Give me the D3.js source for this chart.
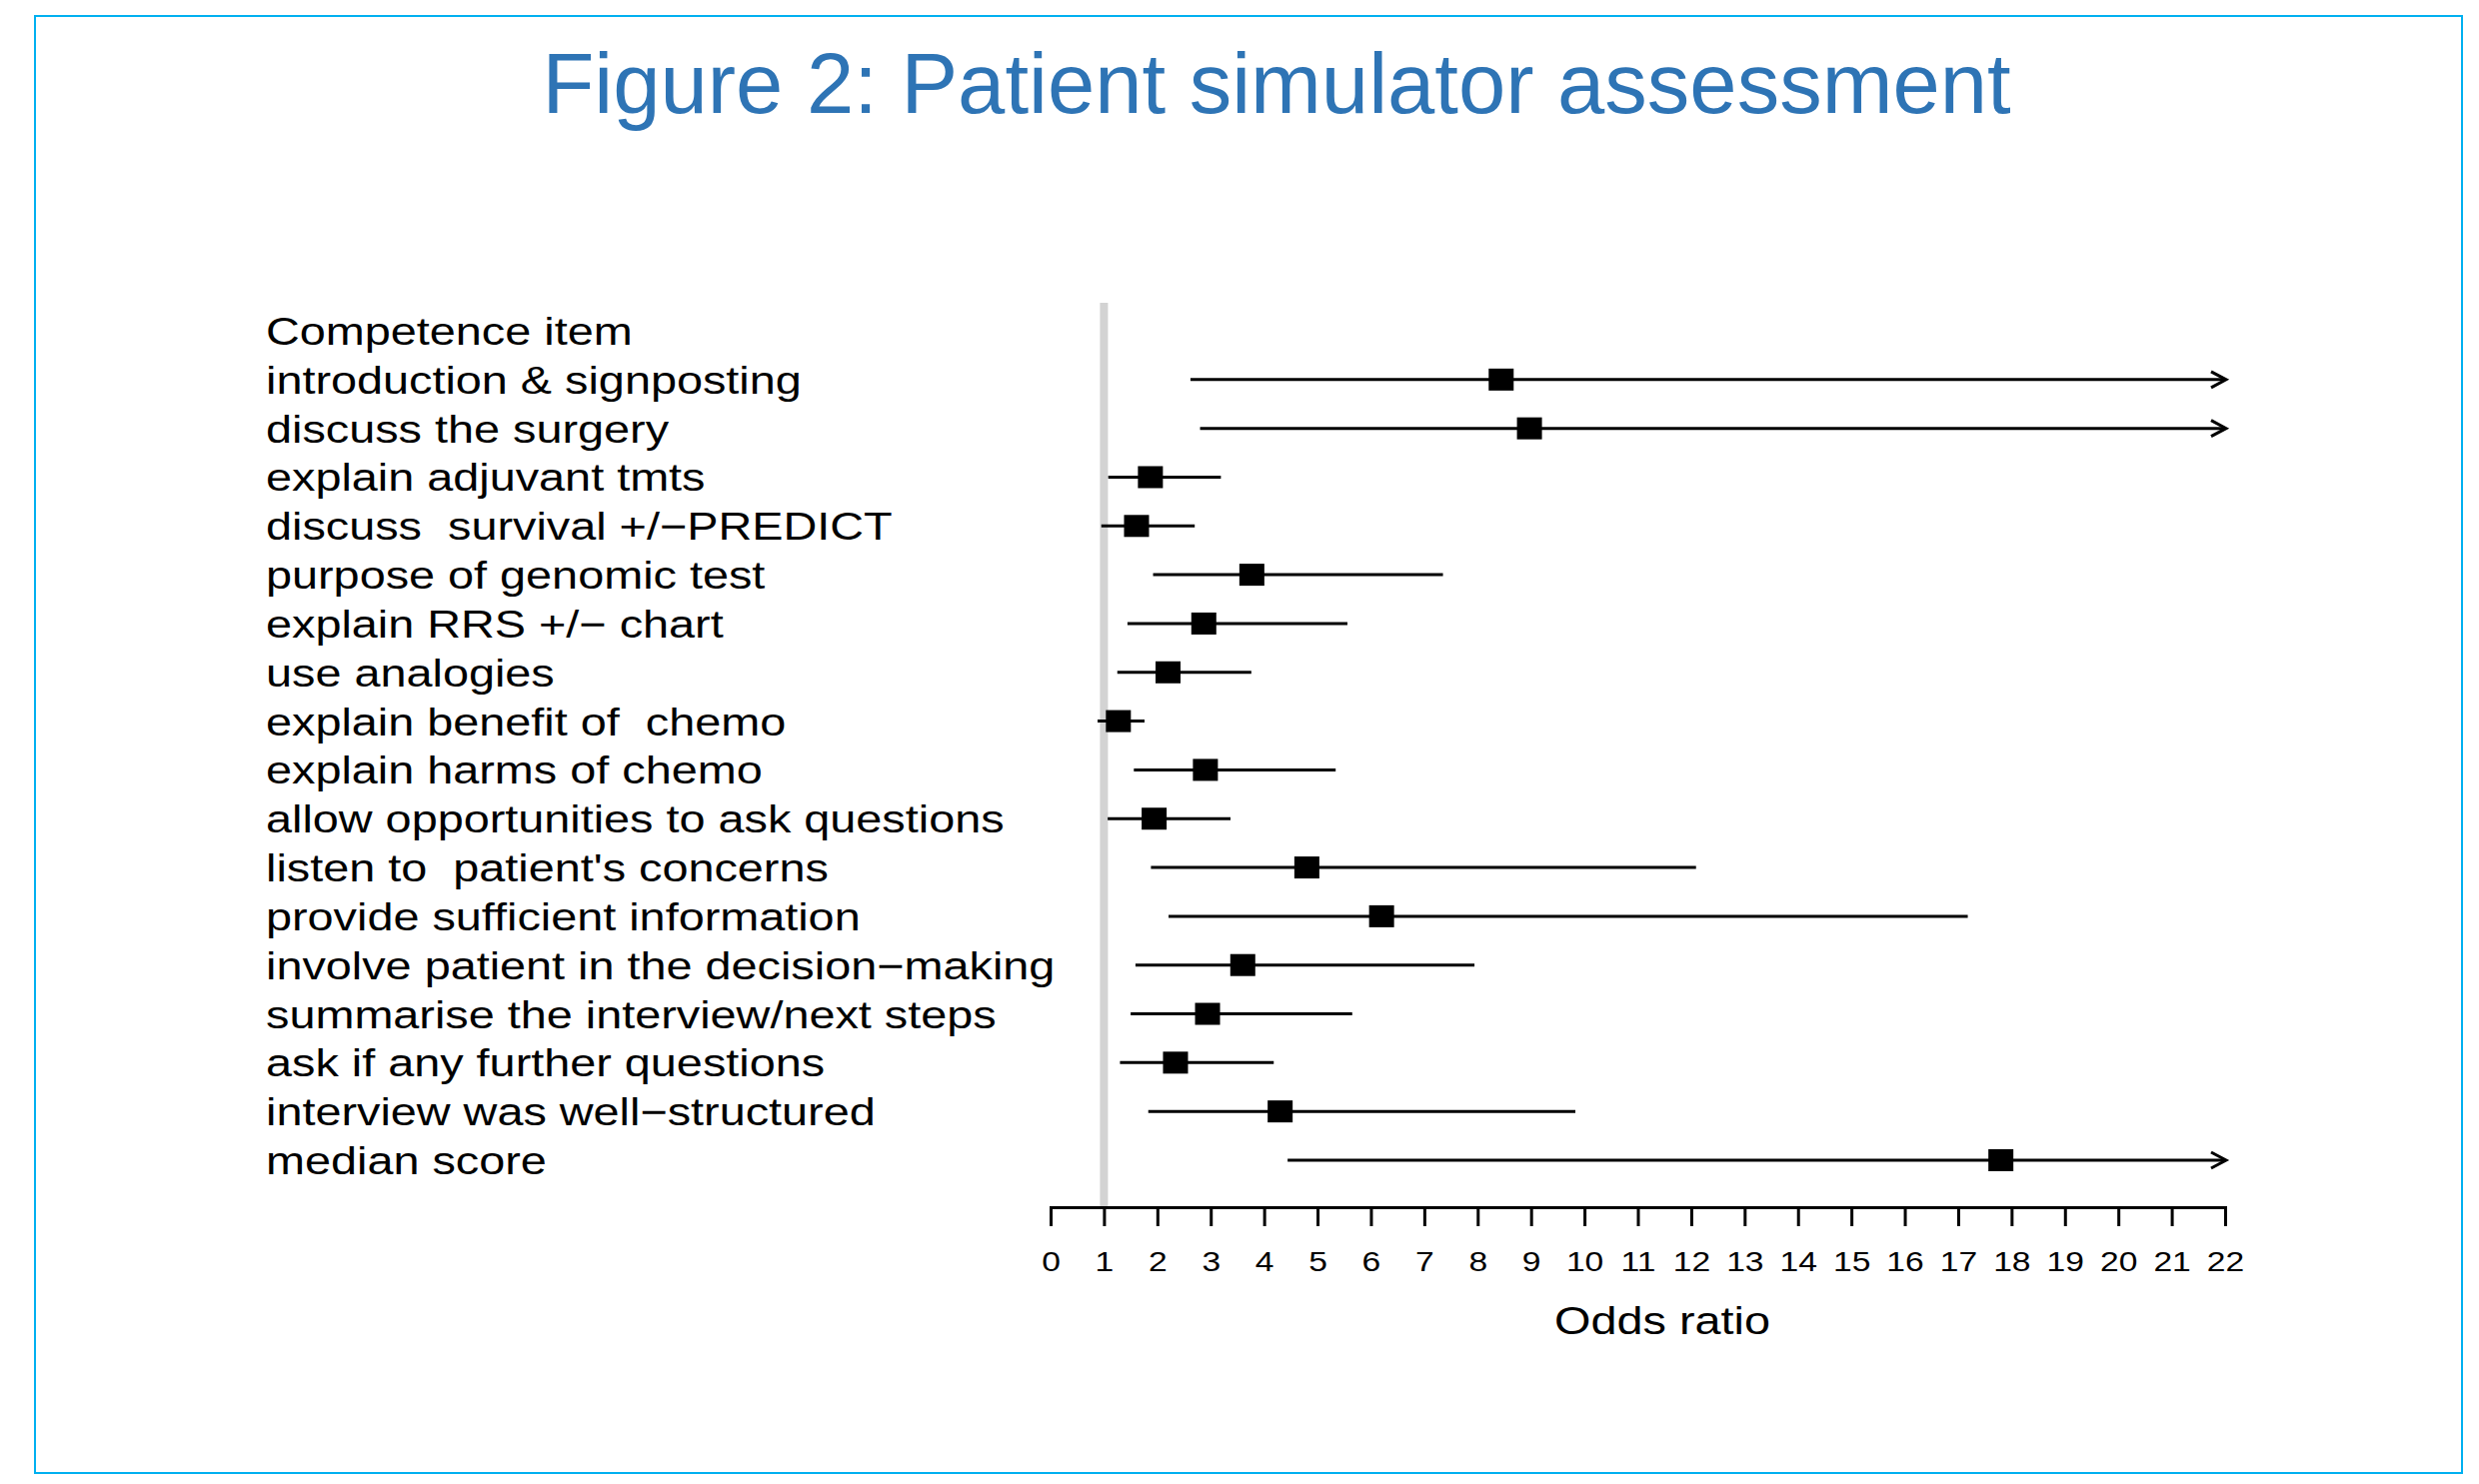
<!DOCTYPE html>
<html>
<head>
<meta charset="utf-8">
<script src="https://cdnjs.cloudflare.com/ajax/libs/d3/7.8.5/d3.min.js"></script>
<style>
body { margin: 0; background: #fff; }
text { font-family: "Liberation Sans", Arial, sans-serif; white-space: pre; }
</style>
</head>
<body>
<div id="viz-container"></div>
<script>
// data
var headerLabel = "Competence item";
var items = [
  "introduction & signposting",
  "discuss the surgery",
  "explain adjuvant tmts",
  "discuss  survival +/\u2212PREDICT",
  "purpose of genomic test",
  "explain RRS +/\u2212 chart",
  "use analogies",
  "explain benefit of  chemo",
  "explain harms of chemo",
  "allow opportunities to ask questions",
  "listen to  patient's concerns",
  "provide sufficient information",
  "involve patient in the decision\u2212making",
  "summarise the interview/next steps",
  "ask if any further questions",
  "interview was well\u2212structured",
  "median score"
];
var estimates = [8.44, 8.97, 1.87, 1.61, 3.77, 2.87, 2.20, 1.27, 2.90, 1.94, 4.80, 6.20, 3.60, 2.94, 2.34, 4.30, 17.80];
var lower     = [2.62, 2.80, 1.08, 0.95, 1.92, 1.44, 1.25, 0.88, 1.56, 1.07, 1.88, 2.21, 1.59, 1.50, 1.30, 1.83, 4.44];
// null = upper limit runs off the axis (drawn as an arrow)
var upper     = [null, null, 3.19, 2.70, 7.35, 5.56, 3.76, 1.76, 5.34, 3.37, 12.09, 17.18, 7.94, 5.65, 4.18, 9.83, null];
var oddsTicks = [0, 1, 2, 3, 4, 5, 6, 7, 8, 9, 10, 11, 12, 13, 14, 15, 16, 17, 18, 19, 20, 21, 22];
var refValue = 1;

var width = 2480, height = 1485;
var STRETCH = 1.2; // the R plot was pasted in stretched sideways

var svg = d3.select("#viz-container")
            .append("svg")
            .attr("width", width)
            .attr("height", height);

// slide frame
svg.append("rect")
   .attr("x", 35).attr("y", 16)
   .attr("width", 2428).attr("height", 1458)
   .attr("fill", "none")
   .attr("stroke", "#00b0f0")
   .attr("stroke-width", 2);

// title
svg.append("text")
   .attr("x", 1277)
   .attr("y", 113)
   .attr("text-anchor", "middle")
   .attr("font-size", 85)
   .attr("fill", "#2e74b5")
   .text("Figure 2: Patient simulator assessment");

// scales
var x = d3.scaleLinear().domain([0, 22]).range([1051, 2226]);
var y = d3.scaleLinear().domain([0, 17]).range([331, 1161]);
var axisY = 1208;

// reference line at OR = 1
svg.append("line")
   .attr("x1", x(refValue)).attr("x2", x(refValue))
   .attr("y1", 303).attr("y2", axisY)
   .attr("stroke", "#d3d3d3")
   .attr("stroke-width", 8);

// row labels
var labels = [headerLabel].concat(items);
svg.append("g")
   .selectAll("text")
   .data(labels)
   .enter().append("text")
   .attr("transform", function(d, i) { return "translate(266," + (y(i) + 14) + ") scale(" + STRETCH + ",1)"; })
   .attr("font-size", 39)
   .attr("fill", "#000")
   .text(function(d) { return d; });

// confidence intervals
var rows = items.map(function(d, i) {
  return { name: d, est: estimates[i], lo: lower[i], hi: upper[i], row: i + 1 };
});

var row = svg.append("g")
   .selectAll("g")
   .data(rows)
   .enter().append("g");

row.append("line")
   .attr("x1", function(d) { return x(d.lo); })
   .attr("x2", function(d) { return d.hi === null ? x(22) : x(d.hi); })
   .attr("y1", function(d) { return y(d.row); })
   .attr("y2", function(d) { return y(d.row); })
   .attr("stroke", "#000")
   .attr("stroke-width", 3);

row.filter(function(d) { return d.hi === null; })
   .append("path")
   .attr("d", function(d) {
     var tx = x(22) + 1, ty = y(d.row);
     return "M" + (tx - 15) + "," + (ty - 8) + "L" + tx + "," + ty + "L" + (tx - 15) + "," + (ty + 8);
   })
   .attr("fill", "none")
   .attr("stroke", "#000")
   .attr("stroke-width", 3);

row.append("rect")
   .attr("x", function(d) { return x(d.est) - 12.5; })
   .attr("y", function(d) { return y(d.row) - 11; })
   .attr("width", 25)
   .attr("height", 22)
   .attr("fill", "#000");

// x axis
var xAxis = d3.axisBottom(x)
              .tickValues(oddsTicks)
              .tickSize(19)
              .tickSizeOuter(19)
              .tickFormat(d3.format("d"));

var gx = svg.append("g")
   .attr("transform", "translate(0," + axisY + ")")
   .call(xAxis);

gx.select(".domain").attr("stroke", "#000").attr("stroke-width", 3);
gx.selectAll(".tick line").attr("stroke", "#000").attr("stroke-width", 3);
gx.selectAll(".tick text")
  .attr("y", 64)
  .attr("dy", null)
  .attr("transform", "scale(" + STRETCH + ",1)")
  .attr("font-size", 28)
  .attr("font-family", "Liberation Sans, Arial, sans-serif")
  .attr("fill", "#000");

svg.append("text")
   .attr("transform", "translate(1663,1335) scale(" + STRETCH + ",1)")
   .attr("text-anchor", "middle")
   .attr("font-size", 39)
   .attr("fill", "#000")
   .text("Odds ratio");
</script>
</body>
</html>
